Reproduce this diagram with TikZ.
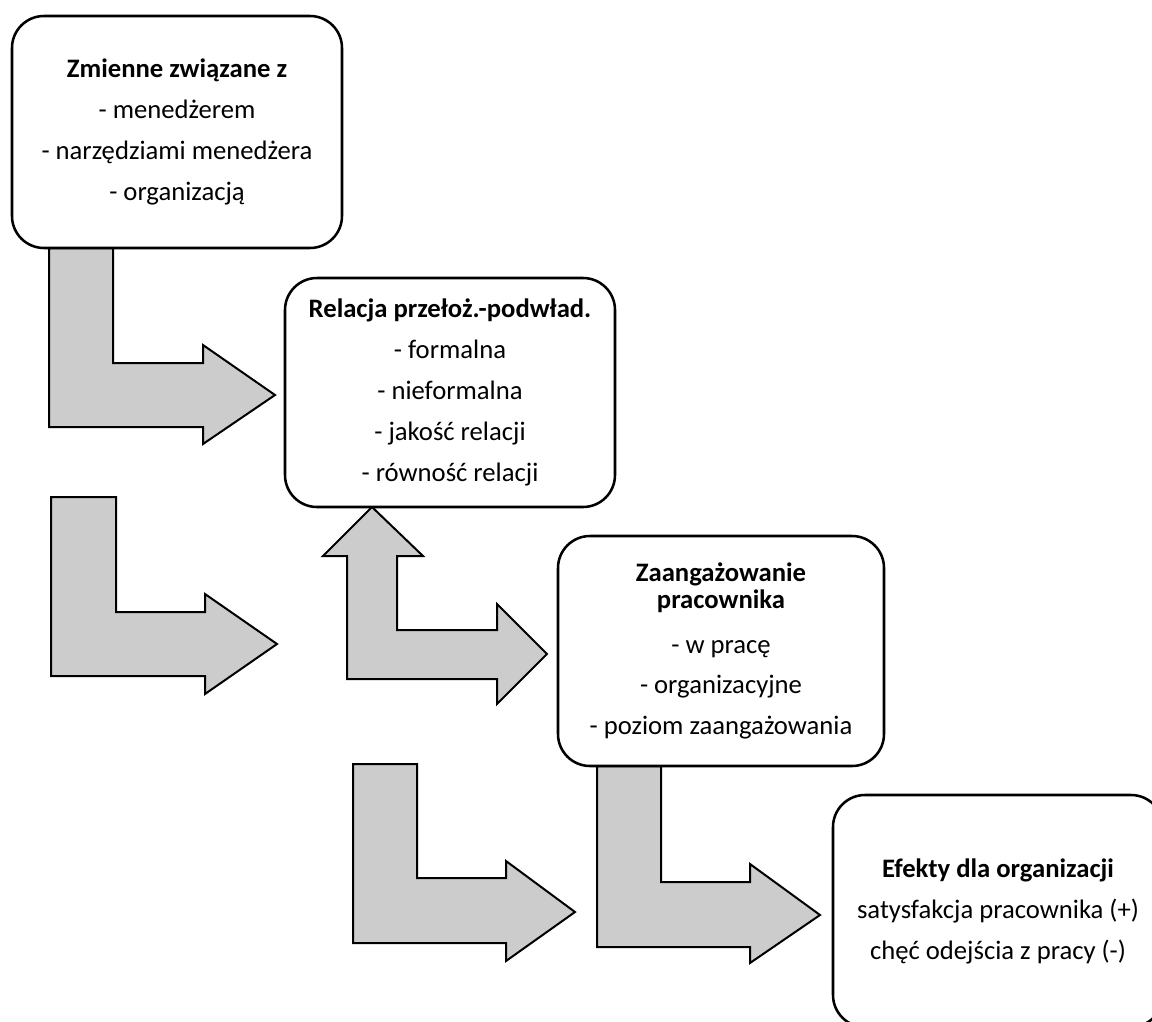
\documentclass[tikz,border=0pt]{standalone}
\usepackage{fontspec}
\setmainfont{Carlito}
\pgfdeclarelayer{background}
\pgfsetlayers{background,main}
\definecolor{arrowgray}{RGB}{204,204,204}
\tikzset{
  box/.style={draw=black, line width=1.9pt, fill=white, rounded corners=24pt,
    align=center, inner sep=0pt, outer sep=0pt,
    font=\fontsize{20}{30.75}\selectfont},
  blockarrow/.style={draw=black, line width=1.5pt, fill=arrowgray, line join=miter},
}
\begin{document}
\begin{tikzpicture}[x=0.75pt, y=-0.75pt]
\useasboundingbox (0,0) rectangle (1152,1021);

% text boxes
\node[box, minimum width=247.5pt, minimum height=174pt] (b1) at (177,132)
  {\textbf{Zmienne związane z}\\- menedżerem\\- narzędziami menedżera\\- organizacją};
\node[box, minimum width=247.5pt, minimum height=171.75pt] (b2) at (450,392.5)
  {\textbf{Relacja przełoż.-podwład.}\\- formalna\\- nieformalna\\- jakość relacji\\- równość relacji};
\node[box, minimum width=244.5pt, minimum height=172.5pt] (b3) at (721,651)
  {\textbf{Zaangażowanie}\\[-10.9pt]\textbf{pracownika}\\[3.2pt]- w pracę\\[-0.5pt]- organizacyjne\\[-0.5pt]- poziom zaangażowania};
\node[box, minimum width=247.5pt, minimum height=174pt] (b4) at (998,911)
  {\textbf{Efekty dla organizacji}\\satysfakcja pracownika (+)\\chęć odejścia z pracy (-)};

% bent block arrows, drawn underneath the boxes
\begin{pgfonlayer}{background}
  % from the first box towards the relation box
  \draw[blockarrow] (49,0 |- b1.south) -- (113,0 |- b1.south) -- (113,363) -- (203,363)
    -- (203,345) -- (275,395) -- (203,444) -- (203,427) -- (49,427) -- cycle;
  % free-standing bent arrow
  \draw[blockarrow] (51,497) -- (116,497) -- (116,612) -- (205,612)
    -- (205,594) -- (277,644) -- (205,694) -- (205,676) -- (51,676) -- cycle;
  % two-headed arrow between the relation box and the engagement box
  \draw[blockarrow] (372,0 |- b2.south) -- (423,556) -- (397,556) -- (397,630) -- (497,630)
    -- (497,604) -- (547,654) -- (497,704) -- (497,679) -- (347,679) -- (347,556)
    -- (323,556) -- cycle;
  % free-standing bent arrow
  \draw[blockarrow] (353,764) -- (417,764) -- (417,878) -- (506,878)
    -- (506,861) -- (575,912) -- (506,961) -- (506,943) -- (353,943) -- cycle;
  % from the engagement box towards the effects box
  \draw[blockarrow] (597,0 |- b3.south) -- (661,0 |- b3.south) -- (661,882) -- (750,882)
    -- (750,864) -- (820,915) -- (750,963) -- (750,947) -- (597,947) -- cycle;
\end{pgfonlayer}
\end{tikzpicture}
\end{document}
